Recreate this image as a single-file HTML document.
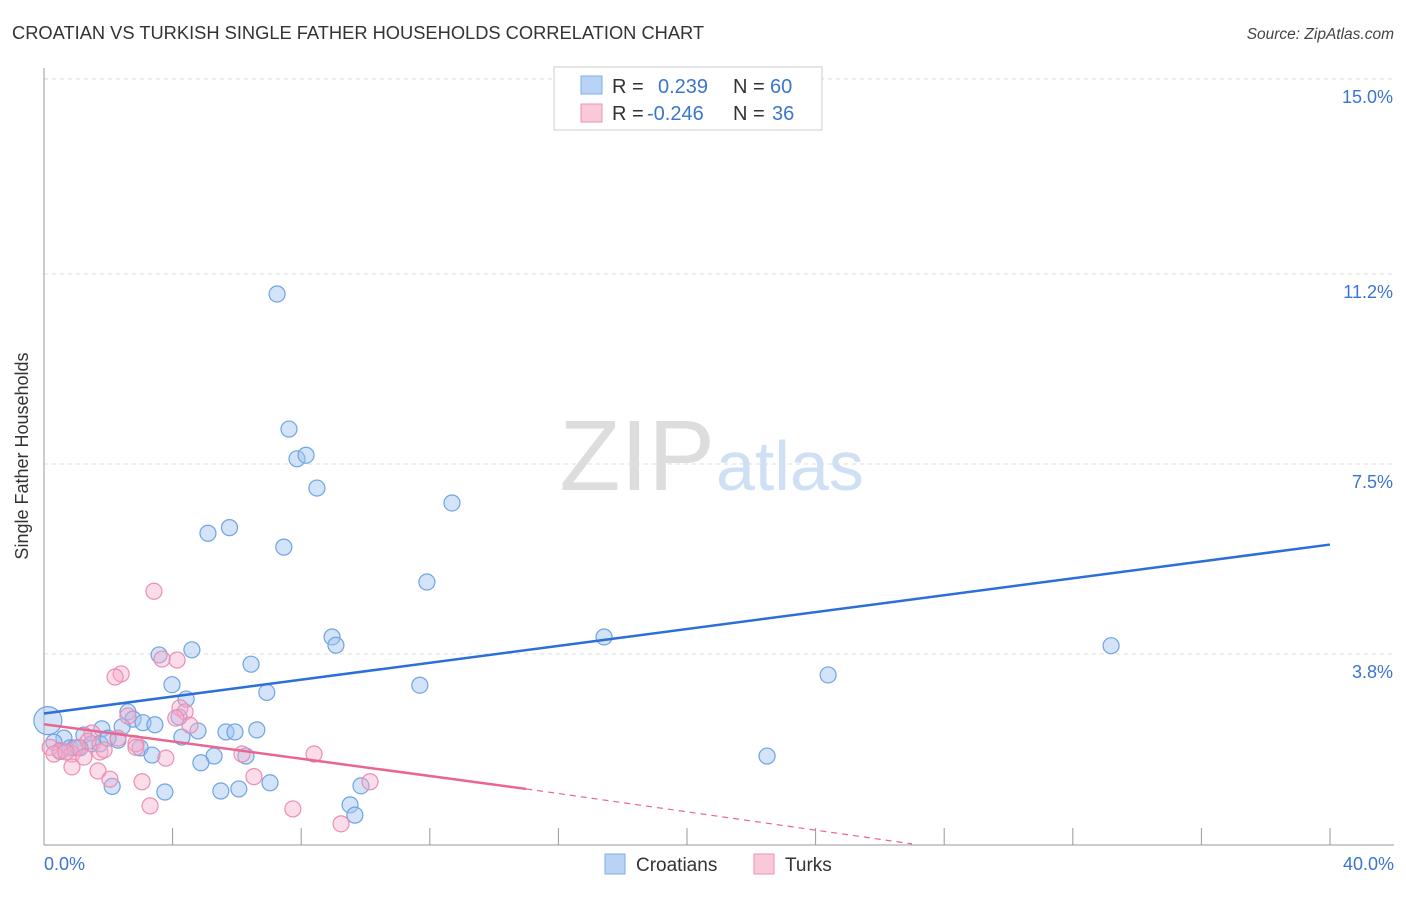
<!DOCTYPE html>
<html><head><meta charset="utf-8"><style>
body{margin:0;background:#fff;font-family:"Liberation Sans",sans-serif}
svg text{font-family:"Liberation Sans",sans-serif}
</style></head><body>
<svg width="1406" height="892">
<text x="12" y="39" font-size="18.3" fill="#333">CROATIAN VS TURKISH SINGLE FATHER HOUSEHOLDS CORRELATION CHART</text>
<text x="1394" y="39" font-size="15.5" fill="#444" font-style="italic" text-anchor="end">Source: ZipAtlas.com</text>
<g id="grid"></g>
<line x1="44" y1="68" x2="44" y2="845" stroke="#999"/>
<line x1="44" y1="845" x2="1394" y2="845" stroke="#999"/>
<text x="28" y="456" font-size="18" fill="#333" transform="rotate(-90 28 456)" text-anchor="middle">Single Father Households</text>
<text x="44" y="870" font-size="18" fill="#3a75d0">0.0%</text>
<text x="1394" y="870" font-size="18" fill="#3a75d0" text-anchor="end">40.0%</text>
<text x="715" y="490" font-size="100" fill="#ddd" text-anchor="end" font-family="Liberation Serif">ZIP</text>
<text x="716" y="490" font-size="70" fill="#cfe0f5">atlas</text>
<g id="pts"></g>
<g id="lines"></g>
<rect x="554" y="67" width="268" height="63" fill="#fff" stroke="#ccc"/>
<rect x="581" y="76" width="21" height="18" fill="#b9d3f5" stroke="#7aaee8"/>
<rect x="581" y="104" width="21" height="18" fill="#f9c9d9" stroke="#ee8fb5"/>
<text x="612" y="93" font-size="20" fill="#333">R = <tspan x="658" fill="#3a75d0">0.239</tspan><tspan x="733" fill="#333">N = </tspan><tspan x="770" fill="#3a75d0">60</tspan></text>
<text x="612" y="120" font-size="20" fill="#333">R = <tspan x="647" fill="#3a75d0">-0.246</tspan><tspan x="733" fill="#333">N = </tspan><tspan x="772" fill="#3a75d0">36</tspan></text>
<rect x="605" y="854" width="20" height="20" fill="#b9d3f5" stroke="#7aaee8"/>
<text x="636" y="871" font-size="19" fill="#333">Croatians</text>
<rect x="754" y="854" width="20" height="20" fill="#f9c9d9" stroke="#ee8fb5"/>
<text x="785" y="871" font-size="19" fill="#333">Turks</text>
</svg>
<script>
const yTicks=[3.8,7.5,11.2,15.0];
const yTickLabels=["3.8%","7.5%","11.2%","15.0%"];
const xTicks=[0,4,8,12,16,20,24,28,32,36,40];
const croatX=[7.25,7.62,7.87,8.15,8.49,12.69,5.77,5.1,7.46,11.91,17.42,33.19,8.96,9.08,3.58,4.6,6.44,24.39,3.98,11.69,6.93,4.42,2.61,2.77,2.43,3.08,3.45,1.8,4.2,4.79,5.66,5.94,6.62,1.24,0.62,2.3,1.49,0.31,0.81,2.99,3.36,4.29,5.29,6.28,22.49,4.88,2.12,7.03,9.86,5.5,6.06,3.76,9.52,9.67,0.12,0.5,1.12,1.74,1.99,0.96];
const croatY=[10.81,8.18,7.6,7.67,7.03,6.74,6.26,6.15,5.88,5.2,4.13,3.96,4.13,3.97,3.78,3.88,3.6,3.39,3.2,3.19,3.05,2.92,2.67,2.53,2.38,2.46,2.42,2.34,2.57,2.3,2.28,2.28,2.32,2.22,2.16,2.12,2.05,2.08,1.97,1.97,1.83,2.18,1.81,1.81,1.81,1.68,1.22,1.29,1.23,1.13,1.17,1.11,0.86,0.66,2.5,1.9,1.97,2.05,2.16,1.97];
const turkX=[3.42,2.4,2.21,4.14,3.67,4.23,4.39,4.1,2.61,4.54,1.49,2.3,1.37,2.86,0.19,0.5,0.87,1.74,1.06,0.31,0.68,1.87,1.24,0.87,1.68,2.05,3.79,6.16,8.4,3.05,6.53,10.14,3.3,7.74,9.24,2.86];
const turkY=[5.02,3.41,3.35,3.68,3.7,2.75,2.67,2.55,2.59,2.41,2.26,2.16,2.1,2.05,1.98,1.92,1.85,1.89,1.98,1.85,1.89,1.93,1.79,1.6,1.52,1.36,1.77,1.85,1.85,1.31,1.41,1.31,0.84,0.78,0.49,1.98];
const blueFit=[0,2.64,40,5.93];
const pinkFit=[0,2.43,15,1.17,27,0.1];
const X=v=>44+v*32.15, Y=v=>849-v*51.34;
const NS="http://www.w3.org/2000/svg";
const g=document.getElementById('grid');
yTicks.forEach((t,i)=>{
 const l=document.createElementNS(NS,'line');
 
 
 l.setAttribute('x1',44);l.setAttribute('x2',1394);l.setAttribute('y1',Y(t));l.setAttribute('y2',Y(t));
 l.setAttribute('stroke','#ddd');l.setAttribute('stroke-dasharray','4,4');g.appendChild(l);
 const tx=document.createElementNS(NS,'text');
 
 
 tx.setAttribute('x',1393);tx.setAttribute('y',Y(t)+24);tx.setAttribute('text-anchor','end');
 tx.setAttribute('font-size','18');tx.setAttribute('fill','#3a75d0');tx.textContent=yTickLabels[i];g.appendChild(tx);
});
const gl=document.createElementNS(NS,'line');


gl.setAttribute('x1',44);gl.setAttribute('x2',1394);gl.setAttribute('y1',79);gl.setAttribute('y2',79);gl.setAttribute('stroke','#ddd');gl.setAttribute('stroke-dasharray','4,4');g.appendChild(gl);
xTicks.forEach(t=>{
 const l=document.createElementNS(NS,'line');
 
 
 l.setAttribute('x1',X(t));l.setAttribute('x2',X(t));l.setAttribute('y1',828);l.setAttribute('y2',845);l.setAttribute('stroke','#999');g.appendChild(l);
});
const p=document.getElementById('pts');
function dot(x,y,fill,stroke,name,r){
 const c=document.createElementNS(NS,'circle');
 
 
 c.setAttribute('cx',X(x));c.setAttribute('cy',Y(y));c.setAttribute('r',r||8);
 c.setAttribute('fill',fill);c.setAttribute('stroke',stroke);c.setAttribute('stroke-width','1.2');p.appendChild(c);
}
croatX.forEach((x,i)=>dot(x,croatY[i],'rgba(160,196,240,0.45)','#6fa3e3','croatian-point',i==54?14:8));
turkX.forEach((x,i)=>dot(x,turkY[i],'rgba(245,170,200,0.4)','#ec8db2','turk-point'));
const L=document.getElementById('lines');
function ln(a,b,c,d,col,dash,name){
 const l=document.createElementNS(NS,'line');
 
 
 l.setAttribute('x1',X(a));l.setAttribute('y1',Y(b));l.setAttribute('x2',X(c));l.setAttribute('y2',Y(d));
 l.setAttribute('stroke',col);l.setAttribute('stroke-width',dash?1.2:2.5);if(dash)l.setAttribute('stroke-dasharray','6,5');L.appendChild(l);
}
ln(blueFit[0],blueFit[1],blueFit[2],blueFit[3],'#2c6fd6',false,'croatian-trend-line');
ln(pinkFit[0],pinkFit[1],pinkFit[2],pinkFit[3],'#e8668f',false,'turk-trend-line');
ln(pinkFit[2],pinkFit[3],pinkFit[4],pinkFit[5],'#e8668f',true,'turk-trend-extension');
</script>
</body></html>
